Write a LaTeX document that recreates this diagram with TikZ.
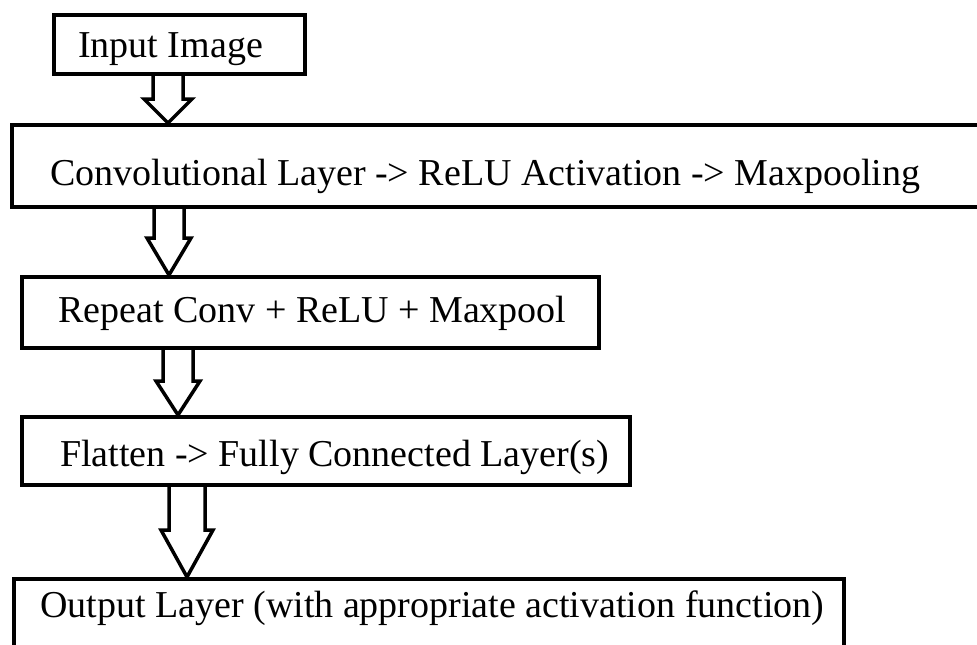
\documentclass[tikz,border=0pt]{standalone}
\usepackage{fontspec}
\setmainfont{Liberation Serif}
\usetikzlibrary{calc}
\pgfdeclarelayer{bg}
\pgfsetlayers{bg,main}
\tikzset{
  box/.style={draw=black, line width=4pt, fill=white, rectangle, anchor=north west, inner sep=0pt},
  blockarrow/.style={draw=black, line width=3.5pt, fill=white, line join=miter},
  lbl/.style={anchor=base west, inner sep=0pt, font=\fontsize{38}{44}\selectfont}
}
% #1 start coord, #2 tip coord, #3 shaft half width, #4 head half width, #5 head length
\newcommand{\mkblockarrow}[5]{%
  \begin{pgfonlayer}{bg}
  \draw[blockarrow] let \p1=(#1), \p2=(#2) in
    (\x2-#3,\y1+6pt) -- (\x2-#3,\y2+#5) -- (\x2-#4,\y2+#5) -- (\x2,\y2)
    -- (\x2+#4,\y2+#5) -- (\x2+#3,\y2+#5) -- (\x2+#3,\y1+6pt);
  \end{pgfonlayer}}
\begin{document}
\begin{tikzpicture}[x=1pt,y=-1pt]
\useasboundingbox (0,0) rectangle (977,645);
\clip (0,0) rectangle (977,645);
% boxes
\node[box, minimum width=251pt, minimum height=59pt] (inbox) at (52,13) {};
\node[box, minimum width=990pt, minimum height=82pt] (conv) at (10,123) {};
\node[box, minimum width=577pt, minimum height=71pt] (rep) at (20,275) {};
\node[box, minimum width=608pt, minimum height=68pt] (flat) at (20,415) {};
\node[box, minimum width=830pt, minimum height=110pt] (outp) at (12,577) {};
% labels
\node[lbl] (tin) at (78,57) {Input Image};
\node[lbl] (tconv) at (50,185) {Convolutional Layer -> ReLU Activation -> Maxpooling};
\node[lbl] (trep) at (58,322) {Repeat Conv + ReLU + Maxpool};
\node[lbl] (tflat) at (60,466) {Flatten -> Fully Connected Layer(s)};
\node[lbl] (tout) at (40,617) {Output Layer (with appropriate activation function)};
% arrow anchor points
\coordinate (a1s) at (168,0 |- inbox.south);
\coordinate (a1t) at (168,0 |- conv.north);
\coordinate (a2s) at (169,0 |- conv.south);
\coordinate (a2t) at (169,0 |- rep.north);
\coordinate (a3s) at (178,0 |- rep.south);
\coordinate (a3t) at (178,0 |- flat.north);
\coordinate (a4s) at (187,0 |- flat.south);
\coordinate (a4t) at (187,0 |- outp.north);
\mkblockarrow{a1s}{a1t}{15pt}{24pt}{24pt}
\mkblockarrow{a2s}{a2t}{15pt}{22pt}{37pt}
\mkblockarrow{a3s}{a3t}{15pt}{22pt}{34pt}
\mkblockarrow{a4s}{a4t}{18pt}{26pt}{47pt}
\end{tikzpicture}
\end{document}
